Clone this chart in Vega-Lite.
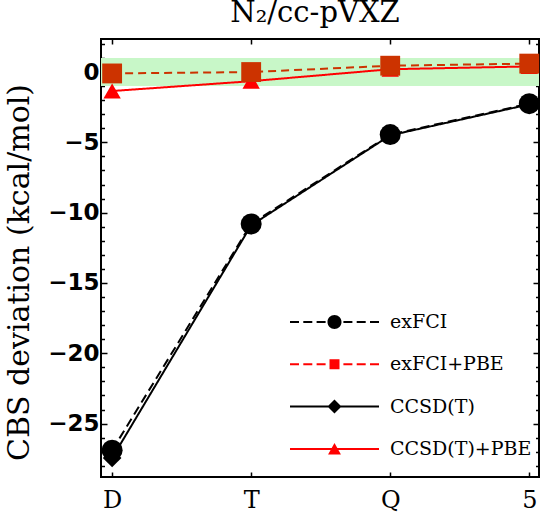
{
  "$schema": "https://vega.github.io/schema/vega-lite/v6.json",
  "width": 438,
  "height": 438,
  "autosize": "none",
  "padding": {"left": 101, "top": 39, "right": 3, "bottom": 44},
  "background": "white",
  "title": {
    "text": "N₂/cc-pVXZ",
    "font": "DejaVu Serif",
    "fontSize": 29,
    "fontWeight": "normal",
    "color": "black",
    "baseline": "alphabetic",
    "anchor": "middle",
    "offset": -13,
    "dx": -5
  },
  "datasets": {
    "dev": [
      {"zeta": 2, "series": "CCSD(T)", "dev": -27.45},
      {"zeta": 3, "series": "CCSD(T)", "dev": -10.9},
      {"zeta": 4, "series": "CCSD(T)", "dev": -4.5},
      {"zeta": 5, "series": "CCSD(T)", "dev": -2.3},
      {"zeta": 2, "series": "exFCI", "dev": -26.9},
      {"zeta": 3, "series": "exFCI", "dev": -10.8},
      {"zeta": 4, "series": "exFCI", "dev": -4.45},
      {"zeta": 5, "series": "exFCI", "dev": -2.25},
      {"zeta": 2, "series": "CCSD(T)+PBE", "dev": -1.35},
      {"zeta": 3, "series": "CCSD(T)+PBE", "dev": -0.65},
      {"zeta": 4, "series": "CCSD(T)+PBE", "dev": 0.2},
      {"zeta": 5, "series": "CCSD(T)+PBE", "dev": 0.4},
      {"zeta": 2, "series": "exFCI+PBE", "dev": -0.1},
      {"zeta": 3, "series": "exFCI+PBE", "dev": 0.0},
      {"zeta": 4, "series": "exFCI+PBE", "dev": 0.45},
      {"zeta": 5, "series": "exFCI+PBE", "dev": 0.6}
    ],
    "band": [{"lo": -1, "hi": 1}]
  },
  "config": {
    "view": {"stroke": "black", "strokeWidth": 2},
    "axis": {"grid": false, "domain": false, "tickColor": "black", "tickWidth": 1.5, "labelColor": "black", "titleColor": "black"}
  },
  "resolve": {
    "scale": {"color": "independent", "shape": "independent"},
    "axis": {"x": "independent", "y": "independent"}
  },
  "layer": [
    {
      "data": {"name": "band"},
      "mark": {"type": "rect", "color": "#c8f7c8"},
      "encoding": {
        "y": {
          "field": "lo", "type": "quantitative",
          "scale": {"domain": [-28.8, 2.35], "nice": false, "zero": false},
          "axis": {
            "orient": "left", "values": [-25, -20, -15, -10, -5, 0],
            "tickSize": -6, "labelPadding": 8,
            "labelFont": "DejaVu Sans", "labelFontWeight": "bold", "labelFontSize": 23,
            "title": "CBS deviation (kcal/mol)",
            "titleFont": "DejaVu Serif", "titleFontSize": 30, "titleFontWeight": "normal",
            "titleX": -82, "titleY": 233, "titleBaseline": "middle"
          }
        },
        "y2": {"field": "hi"}
      }
    },
    {
      "data": {"name": "dev"},
      "mark": {"type": "line", "strokeWidth": 2},
      "encoding": {
        "x": {
          "field": "zeta", "type": "quantitative",
          "scale": {"domain": [1.92, 5.07], "nice": false, "zero": false},
          "axis": {
            "orient": "bottom", "values": [2, 3, 4, 5],
            "labelExpr": "datum.value === 2 ? 'D' : datum.value === 3 ? 'T' : datum.value === 4 ? 'Q' : '5'",
            "tickSize": -5, "labelPadding": 16,
            "labelFont": "DejaVu Serif", "labelFontSize": 24, "title": null
          }
        },
        "y": {
          "field": "dev", "type": "quantitative",
          "scale": {"domain": [-28.8, 2.35], "nice": false, "zero": false},
          "axis": {"orient": "right", "values": [-25, -20, -15, -10, -5, 0], "tickSize": -6, "labels": false, "title": null}
        },
        "color": {
          "field": "series", "type": "nominal",
          "scale": {"domain": ["exFCI", "exFCI+PBE", "CCSD(T)", "CCSD(T)+PBE"], "range": ["black", "#cc3300", "black", "#ff0000"]},
          "legend": null
        },
        "strokeDash": {
          "field": "series", "type": "nominal",
          "scale": {"domain": ["exFCI", "exFCI+PBE", "CCSD(T)", "CCSD(T)+PBE"], "range": [[9, 5], [8, 5], [1, 0], [1, 0]]},
          "legend": null
        }
      }
    },
    {
      "data": {"name": "dev"},
      "transform": [{"filter": {"field": "series", "oneOf": ["exFCI", "CCSD(T)"]}}],
      "mark": {"type": "point", "filled": true, "opacity": 1, "strokeWidth": 0},
      "encoding": {
        "x": {
          "field": "zeta", "type": "quantitative",
          "scale": {"domain": [1.92, 5.07], "nice": false, "zero": false},
          "axis": {"orient": "top", "values": [2, 3, 4, 5], "tickSize": -5, "labels": false, "title": null}
        },
        "y": {
          "field": "dev", "type": "quantitative",
          "scale": {"domain": [-28.8, 2.35], "nice": false, "zero": false},
          "axis": {
            "orient": "left",
            "values": [-28, -27, -26, -24, -23, -22, -21, -19, -18, -17, -16, -14, -13, -12, -11, -9, -8, -7, -6, -4, -3, -2, -1, 1, 2],
            "tickSize": -3.5, "labels": false, "title": null
          }
        },
        "color": {
          "field": "series", "type": "nominal",
          "scale": {"domain": ["exFCI", "exFCI+PBE", "CCSD(T)", "CCSD(T)+PBE"], "range": ["black", "#cc3300", "black", "#ff0000"]},
          "legend": null
        },
        "shape": {
          "field": "series", "type": "nominal",
          "scale": {"domain": ["exFCI", "exFCI+PBE", "CCSD(T)", "CCSD(T)+PBE"], "range": ["circle", "square", "diamond", "triangle-up"]},
          "legend": null
        },
        "size": {
          "field": "series", "type": "nominal",
          "scale": {"domain": ["exFCI", "exFCI+PBE", "CCSD(T)", "CCSD(T)+PBE"], "range": [441, 300, 400, 441]},
          "legend": null
        }
      }
    },
    {
      "data": {"name": "dev"},
      "transform": [{"filter": {"field": "series", "oneOf": ["CCSD(T)+PBE", "exFCI+PBE"]}}],
      "mark": {"type": "point", "filled": true, "opacity": 1, "strokeWidth": 0},
      "encoding": {
        "x": {
          "field": "zeta", "type": "quantitative",
          "scale": {"domain": [1.92, 5.07], "nice": false, "zero": false},
          "axis": null
        },
        "y": {
          "field": "dev", "type": "quantitative",
          "scale": {"domain": [-28.8, 2.35], "nice": false, "zero": false},
          "axis": {
            "orient": "right",
            "values": [-28, -27, -26, -24, -23, -22, -21, -19, -18, -17, -16, -14, -13, -12, -11, -9, -8, -7, -6, -4, -3, -2, -1, 1, 2],
            "tickSize": -3.5, "labels": false, "title": null
          }
        },
        "color": {
          "field": "series", "type": "nominal",
          "scale": {"domain": ["exFCI", "exFCI+PBE", "CCSD(T)", "CCSD(T)+PBE"], "range": ["black", "#cc3300", "black", "#ff0000"]},
          "legend": null
        },
        "shape": {
          "field": "series", "type": "nominal",
          "scale": {"domain": ["exFCI", "exFCI+PBE", "CCSD(T)", "CCSD(T)+PBE"], "range": ["circle", "square", "diamond", "triangle-up"]},
          "legend": null
        },
        "size": {
          "field": "series", "type": "nominal",
          "scale": {"domain": ["exFCI", "exFCI+PBE", "CCSD(T)", "CCSD(T)+PBE"], "range": [441, 300, 400, 441]},
          "legend": null
        }
      }
    },
    {
      "data": {"name": "dev"},
      "transform": [{"filter": "false"}],
      "mark": {"type": "point", "filled": true, "opacity": 1, "size": 900, "strokeWidth": 0},
      "encoding": {
        "color": {
          "field": "series", "type": "nominal",
          "scale": {"domain": ["exFCI", "exFCI+PBE", "CCSD(T)", "CCSD(T)+PBE"], "range": ["black", "#ff0000", "black", "#ff0000"]},
          "legend": {
            "orient": "none", "legendX": 218.5, "legendY": 268, "title": null,
            "symbolSize": 900, "symbolStrokeWidth": 0,
            "labelFont": "DejaVu Serif", "labelFontSize": 19, "labelColor": "black",
            "labelOffset": 40.5, "rowPadding": 17.3, "labelLimit": 300, "padding": 0
          }
        },
        "shape": {
          "field": "series", "type": "nominal",
          "scale": {
            "domain": ["exFCI", "exFCI+PBE", "CCSD(T)", "CCSD(T)+PBE"],
            "range": [
              "M-2.967,-0.067H-2.367V0.067H-2.967Z M-2.08,-0.067H-1.48V0.067H-2.08Z M-1.193,-0.067H-0.593V0.067H-1.193Z M0.593,-0.067H1.193V0.067H0.593Z M1.48,-0.067H2.08V0.067H1.48Z M2.367,-0.067H2.967V0.067H2.367Z M-0.467,0A0.467,0.467 0 1,1 0.467,0A0.467,0.467 0 1,1 -0.467,0Z",
              "M-2.967,-0.067H-2.367V0.067H-2.967Z M-2.08,-0.067H-1.48V0.067H-2.08Z M-1.193,-0.067H-0.593V0.067H-1.193Z M0.593,-0.067H1.193V0.067H0.593Z M1.48,-0.067H2.08V0.067H1.48Z M2.367,-0.067H2.967V0.067H2.367Z M-0.333,-0.333H0.333V0.333H-0.333Z",
              "M-2.967,-0.067H2.967V0.067H-2.967Z M0,-0.467L0.467,0L0,0.467L-0.467,0Z",
              "M-2.967,-0.067H2.967V0.067H-2.967Z M0,-0.4L0.43,0.37H-0.43Z"
            ]
          },
          "legend": {
            "orient": "none", "legendX": 218.5, "legendY": 268, "title": null,
            "symbolSize": 900, "symbolStrokeWidth": 0,
            "labelFont": "DejaVu Serif", "labelFontSize": 19, "labelColor": "black",
            "labelOffset": 40.5, "rowPadding": 17.3, "labelLimit": 300, "padding": 0
          }
        }
      }
    }
  ]
}
